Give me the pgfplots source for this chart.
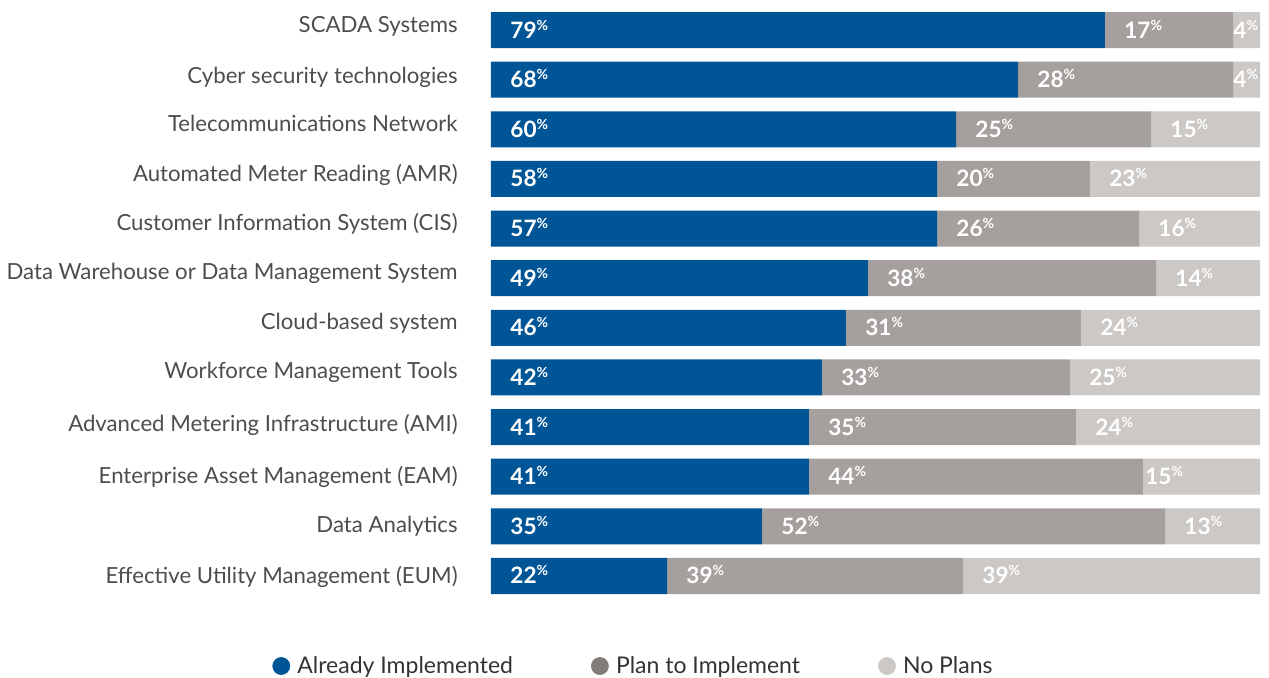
\documentclass[border=0pt]{standalone}
\usepackage{fontspec}
\setmainfont{Lato}
\usepackage{pgfplots}
\pgfplotsset{compat=1.18}
\usepackage{pgfplotstable}
\definecolor{cblue}{HTML}{005596}
\definecolor{cgrey}{HTML}{A5A09D}
\definecolor{clight}{HTML}{CBC8C5}
\definecolor{mgrey}{HTML}{837D7A}
\definecolor{labgrey}{HTML}{4D4D4D}
\definecolor{legtext}{HTML}{333333}

\pgfplotstableread{
row blue grey light
0 79.84 16.65 3.51
1 68.53 27.96 3.51
2 60.47 25.36 14.17
3 58.00 19.89 22.11
4 58.00 26.27 15.73
5 49.02 37.46 13.52
6 46.16 30.56 23.28
7 43.04 32.25 24.71
8 41.35 34.72 23.93
9 41.35 43.43 15.22
10 35.24 52.41 12.35
11 22.89 38.49 38.62
}\bars

\pgfplotstableread{
x y lab
2.47 0 79
82.31 0 17
96.49 0 4
2.47 1 68
71.00 1 28
96.49 1 4
2.47 2 60
62.94 2 25
88.30 2 15
2.47 3 58
60.47 3 20
80.36 3 23
2.47 4 57
60.47 4 26
86.74 4 16
2.47 5 49
51.49 5 38
88.95 5 14
2.47 6 46
48.63 6 31
79.19 6 24
2.47 7 42
45.51 7 33
77.76 7 25
2.47 8 41
43.82 8 35
78.54 8 24
2.47 9 41
43.82 9 44
85.04 9 15
2.47 10 35
37.71 10 52
90.12 10 13
2.47 11 22
25.36 11 39
63.85 11 39
}\labels

\begin{document}
\begin{tikzpicture}
\path[use as bounding box] (0,0) rectangle (634.5pt,338.5pt);
\begin{axis}[
  at={(245.5pt,38.1pt)}, anchor=south west,
  scale only axis, width=384.5pt, height=297.8pt,
  xmin=0, xmax=100, ymin=-0.5, ymax=11.5, y dir=reverse,
  xbar stacked, bar width=18pt,
  axis line style={draw=none},
  xtick=\empty,
  ytick={0,1.02,2,3,4,4.98,5.98,6.98,8.04,9.08,10.08,11.1},
  yticklabels={{SCADA Systems},{Cyber security technologies},{Telecommunications Network},{Automated Meter Reading (AMR)},{Customer Information System (CIS)},{Data Warehouse or Data Management System},{Cloud-based system},{Workforce Management Tools},{Advanced Metering Infrastructure (AMI)},{Enterprise Asset Management (EAM)},{Data Analytics},{Effective Utility Management (EUM)}},
  major tick length=0pt,
  yticklabel style={anchor=base east, inner sep=0pt, xshift=-16.5pt, yshift=-1.2pt, font=\fontsize{11.1}{13}\selectfont, text=labgrey},
  legend columns=3,
  legend style={draw=none, fill=none, at={(0.1866,-0.1095)}, anchor=center,
    font=\fontsize{11.5}{13}\selectfont, text=legtext,
    /tikz/every odd column/.append style={column sep=1.6pt},
    /tikz/every even column/.append style={column sep=37pt}},
  legend cell align=left,
]
\addplot[fill=cblue, draw=none, forget plot] table[x=blue, y=row]{\bars};
\addplot[fill=cgrey, draw=none, forget plot] table[x=grey, y=row]{\bars};
\addplot[fill=clight, draw=none, forget plot] table[x=light, y=row]{\bars};
\addlegendimage{legend image code/.code={\fill[cblue] (0pt,0pt) circle (4.25pt);}}
\addlegendentry{Already Implemented}
\addlegendimage{legend image code/.code={\fill[mgrey] (0pt,0pt) circle (4.25pt);}}
\addlegendentry{Plan to Implement}
\addlegendimage{legend image code/.code={\fill[clight] (0pt,0pt) circle (4.25pt);}}
\addlegendentry{No Plans}
\end{axis}
\begin{axis}[
  at={(245.5pt,38.1pt)}, anchor=south west,
  scale only axis, width=384.5pt, height=297.8pt,
  xmin=0, xmax=100, ymin=-0.5, ymax=11.5, y dir=reverse,
  hide axis,
]
\addplot[only marks, mark=none, point meta=explicit symbolic,
  nodes near coords={\pgfplotspointmeta\raisebox{4pt}{\fontsize{7}{8}\selectfont\%}},
  nodes near coords style={anchor=base west, inner sep=0pt, yshift=-4pt, text=white, font=\bfseries\fontsize{11.3}{12}\selectfont}]
  table[x=x, y=y, meta=lab]{\labels};
\end{axis}
\end{tikzpicture}
\end{document}
